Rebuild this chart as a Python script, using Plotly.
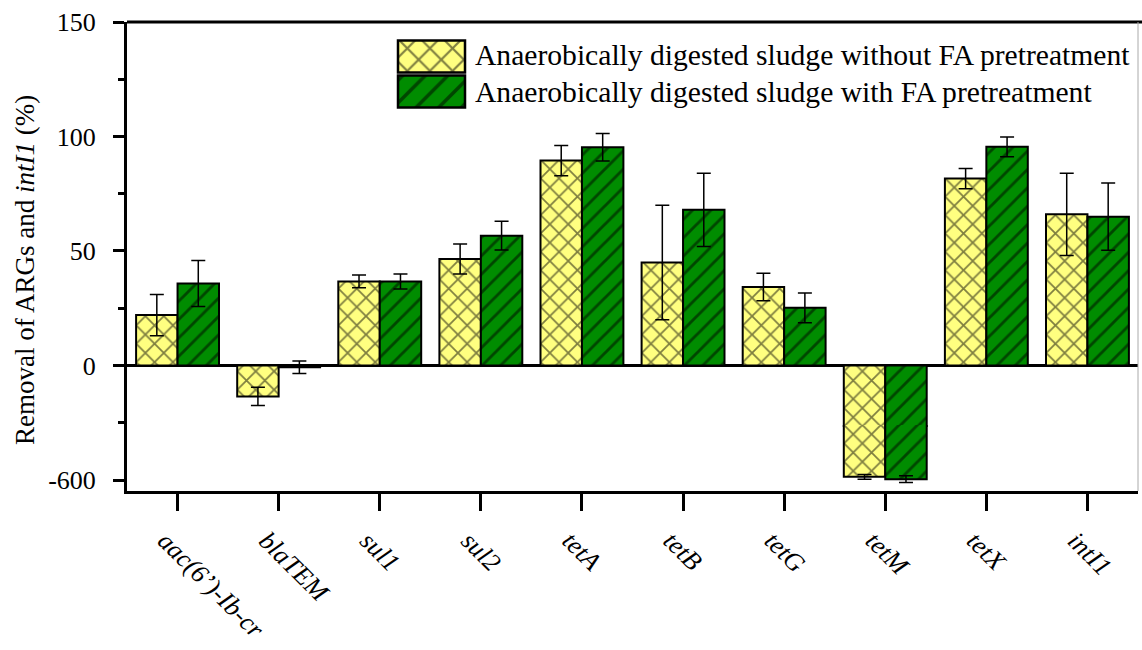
import plotly.graph_objects as go

# ---------------- data ----------------
categories = ["<i>aac(6’)-Ib-cr</i>", "<i>blaTEM</i>", "<i>sul1</i>", "<i>sul2</i>", "<i>tetA</i>",
              "<i>tetB</i>", "<i>tetG</i>", "<i>tetM</i>", "<i>tetX</i>", "<i>intI1</i>"]
without_fa = [22.0, -13.5, 36.7, 46.5, 89.5, 45.0, 34.3, -598.5, 81.6, 66.0]
without_fa_err = [9.0, 4.0, 2.8, 6.6, 6.6, 25.0, 6.0, 1.0, 4.4, 18.0]
with_fa = [35.8, -0.8, 36.7, 56.7, 95.3, 68.0, 25.2, -599.5, 95.5, 65.0]
with_fa_err = [10.0, 2.7, 3.3, 6.3, 6.0, 16.0, 6.5, 1.5, 4.3, 14.7]
series_names = ["Anaerobically digested sludge without FA pretreatment",
                "Anaerobically digested sludge with FA pretreatment"]
upper_ticks = [0, 50, 100, 150]
upper_minor = [-25, 25, 75, 125]
lower_ticks = [-600]

# ---------------- layout geometry (broken y axis: two stacked subplots) ----------------
W, H = 1142, 650
L, R, T, B = 127, 4, 22, 159
PW, PH = W - L - R, H - T - B
PLOT_BOTTOM = H - B              # 491 px
k = 2.2898                        # px per data unit
UP_BOTTOM_PX = 427                # bottom of upper panel (px from top)
LO_TOP_PX = 425                   # top of lower panel (small overlap hides the seam)
LO_REF_PX, LO_REF_VAL = 480.3, -600

up_range = [150 - (UP_BOTTOM_PX - T) / k, 150]
lo_top_val = LO_REF_VAL + (LO_REF_PX - LO_TOP_PX) / k
lo_range = [lo_top_val - (PLOT_BOTTOM - LO_TOP_PX) / k, lo_top_val]

FONT = "Liberation Serif, Times New Roman, serif"
YEL = "#FFFF80"
GRN = "#008C00"

def px_x(p):
    return (p - L) / PW

def px_y(p):
    return (PLOT_BOTTOM - p) / PH

style = [
    dict(color=YEL, pattern=dict(shape="x", size=13, solidity=0.25, fgcolor="black", bgcolor=YEL)),
    dict(color=GRN, pattern=dict(shape="/", size=13, solidity=0.22, fgcolor="black", bgcolor=GRN)),
]
vals = [without_fa, with_fa]
errs = [without_fa_err, with_fa_err]
offsets = [-0.41, 0.0]

fig = go.Figure()
for ya in ["y", "y2"]:
    for i in range(2):
        fig.add_trace(go.Bar(
            x=categories, y=vals[i], xaxis="x", yaxis=ya,
            width=0.41, offset=offsets[i],
            marker=dict(color=style[i]["color"], pattern=style[i]["pattern"],
                        line=dict(color="black", width=2)),
            error_y=dict(type="data", array=errs[i], visible=True, color="black",
                         thickness=1.5, width=7),
            name=series_names[i], showlegend=False,
        ))

# legend swatches drawn as bars in a small inset subplot
for i in range(2):
    fig.add_trace(go.Bar(
        x=[1], y=[i], base=0, orientation="h", xaxis="x3", yaxis="y3", width=0.914,
        marker=dict(color=style[i]["color"],
                    pattern=dict(style[i]["pattern"], size=style[i]["pattern"]["size"] + 3),
                    line=dict(color="black", width=2.5)),
        showlegend=False, hoverinfo="skip",
    ))

axfont = dict(family=FONT, size=26, color="black")

fig.update_layout(
    width=W, height=H,
    margin=dict(l=L, r=R, t=T, b=B, autoexpand=False),
    paper_bgcolor="white", plot_bgcolor="rgba(0,0,0,0)",
    barmode="overlay",
    showlegend=False,
    xaxis=dict(
        domain=[0, 1], anchor="y2", type="category", range=[-0.5, 9.5],
        showline=True, linecolor="black", linewidth=3,
        ticks="outside", ticklen=17, tickwidth=3, tickcolor="black",
        tickangle=45, tickfont=dict(family=FONT, size=26, color="black"),
        ticklabelstandoff=4, ticklabelshift=-12, showgrid=False,
    ),
    yaxis=dict(
        domain=[px_y(UP_BOTTOM_PX), 1], anchor="x", range=up_range,
        showline=True, linecolor="black", linewidth=3,
        tickmode="array", tickvals=upper_ticks, ticktext=[str(v) for v in upper_ticks],
        ticks="outside", ticklen=11, tickwidth=3, tickcolor="black",
        minor=dict(tickmode="array", tickvals=upper_minor, ticks="outside",
                   ticklen=6, tickwidth=3, tickcolor="black", showgrid=False),
        tickfont=axfont, showgrid=False, ticklabelstandoff=12,
        zeroline=True, zerolinecolor="black", zerolinewidth=3,
    ),
    yaxis2=dict(
        domain=[0, px_y(LO_TOP_PX)], anchor="x", range=lo_range,
        showline=True, linecolor="black", linewidth=3,
        tickmode="array", tickvals=lower_ticks, ticktext=[str(v) for v in lower_ticks],
        ticks="outside", ticklen=11, tickwidth=3, tickcolor="black",
        tickfont=axfont, showgrid=False, zeroline=False, ticklabelstandoff=12,
    ),
    xaxis3=dict(domain=[px_x(396), px_x(467)], anchor="y3", range=[-2 / 67, 1 + 2 / 67],
                visible=False, fixedrange=True),
    yaxis3=dict(domain=[px_y(111), px_y(37)], anchor="x3",
                range=[1.5 + 2 / 35, -0.5 - 2 / 35], visible=False, fixedrange=True),
)

# frame lines (top and right edges)
fig.add_shape(type="line", xref="paper", yref="paper", x0=0, x1=(W - L) / PW, y0=1, y1=1,
              line=dict(color="black", width=3))
fig.add_shape(type="line", xref="paper", yref="paper", x0=1, x1=1, y0=0, y1=1,
              line=dict(color="#AAAAAA", width=1))

# legend texts
for i, yy in enumerate([55, 92]):
    fig.add_annotation(text=series_names[i], xref="paper", yref="paper",
                       x=px_x(473), y=px_y(yy), xanchor="left", yanchor="middle",
                       showarrow=False, font=dict(family=FONT, size=29.6, color="black"))

# y-axis title
fig.add_annotation(text="Removal of ARGs and <i>intI1</i> (%)", xref="paper", yref="paper",
                   x=px_x(25), y=px_y(270), xanchor="center", yanchor="middle",
                   textangle=-90, showarrow=False,
                   font=dict(family=FONT, size=27, color="black"))

fig.write_html("out.html")
